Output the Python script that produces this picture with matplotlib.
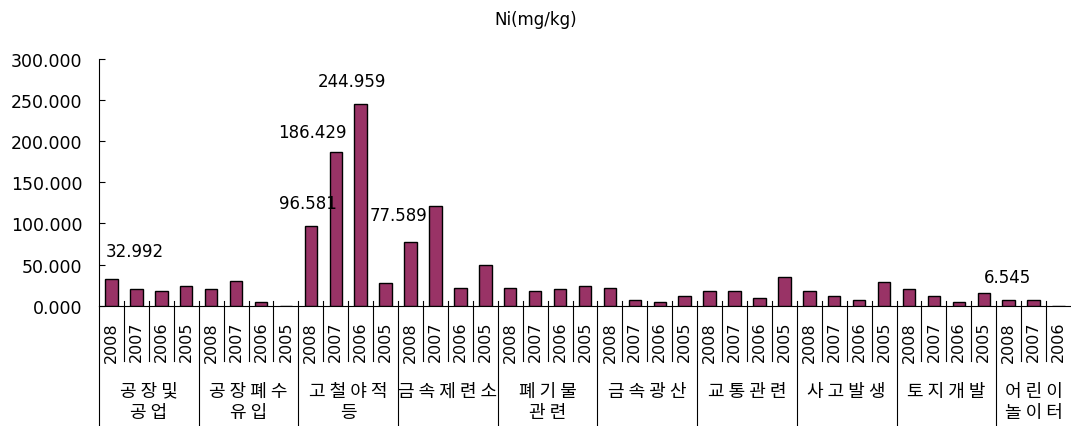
import matplotlib
matplotlib.use("Agg")
import matplotlib.pyplot as plt
import matplotlib.transforms as mtransforms

# groups (site type) and the years inside each group
categories = ['공장및\n공업', '공장폐수\n유입', '고철야적\n등', '금속제련소', '폐기물\n관련',
              '금속광산', '교통관련', '사고발생', '토지개발', '어린이\n놀이터']
years = ['2008', '2007', '2006', '2005']
last_years = ['2008', '2007', '2006']

# Ni concentration (mg/kg), one list per group
g_factory = [32.992, 20.0, 17.5, 24.0]
g_wastewater = [20.0, 30.4, 4.5, 0.0]
g_scrap = [96.581, 186.429, 244.959, 28.0]
g_smelter = [77.589, 121.6, 21.9, 49.5]
g_waste = [21.9, 17.9, 19.9, 24.3]
g_mine = [21.9, 6.9, 4.9, 11.4]
g_traffic = [17.9, 17.9, 9.0, 34.9]
g_accident = [17.9, 11.4, 6.9, 28.4]
g_landdev = [19.9, 11.4, 4.9, 15.4]
g_playground = [6.545, 6.9, 0.0]

groups = [g_factory, g_wastewater, g_scrap, g_smelter, g_waste,
          g_mine, g_traffic, g_accident, g_landdev, g_playground]

# bars that carry a value label: bar index -> offset of label (points)
labelled = {0: (17, 19.5), 8: (-2, 17), 9: (-17, 15), 10: (-6.5, 17),
            12: (-9, 19.5), 36: (-0.7, 17)}

values = []
year_labels = []
for i, g in enumerate(groups):
    values += g
    year_labels += (last_years if i == len(groups) - 1 else years)[:len(g)]
n = len(values)
x = list(range(n))

fig = plt.figure(figsize=(10.71, 4.27), dpi=100)
ax = fig.add_axes([99 / 1071, 120.3 / 427, 972 / 1071, 246.7 / 427])

ax.bar(x, values, width=0.5, color='#993366', edgecolor='black', linewidth=1.0, zorder=3)

ax.set_xlim(-0.5, n - 0.5)
ax.set_ylim(0, 300)
ax.set_yticks(range(0, 301, 50))
ax.set_yticklabels([f'{v:.3f}' for v in range(0, 301, 50)], fontsize=12.5, family='DejaVu Sans')
ax.tick_params(axis='y', direction='in', length=4, width=0.8, pad=12)

ax.set_xticks(x)
ax.set_xticklabels(year_labels, rotation=90, fontsize=11.5, family='DejaVu Sans')
ax.tick_params(axis='x', length=0, pad=11)

for s in ['top', 'right']:
    ax.spines[s].set_visible(False)
for s in ['left', 'bottom']:
    ax.spines[s].set_linewidth(0.8)

# separators between bars and between groups
trans = mtransforms.blended_transform_factory(ax.transData, ax.transAxes)
px = 1 / 246.7
starts = []
pos = 0
for g in groups:
    starts.append(pos)
    pos += len(g)
for b in range(n):
    xb = b - 0.5
    if b in starts:
        lo = -(427 - 306.7) * px
    else:
        lo = -(362 - 306.7) * px
    if b == 0:
        ax.plot([xb, xb], [lo, 0], transform=trans, color='black', lw=0.8, clip_on=False)
    else:
        ax.plot([xb, xb], [lo, 5 * px], transform=trans, color='black', lw=0.8, clip_on=False)

# group names (spaced out letters like the original)
for i, (name, st) in enumerate(zip(categories, starts)):
    xc = st + (len(groups[i]) - 1) / 2
    for k, line in enumerate(name.split('\n')):
        yc = -(391.7 - 306.7 + k * 21.5) * px
        ax.text(xc, yc, ' '.join(line), transform=trans, ha='center', va='center',
                fontsize=13, family=['Noto Sans CJK KR', 'DejaVu Sans'])

# value labels
for b, (dx, dy) in labelled.items():
    ax.annotate(f'{values[b]:.3f}', (b, values[b]), xytext=(dx, dy),
                textcoords='offset points', ha='center', va='center',
                fontsize=12, family='DejaVu Sans', zorder=4)

fig.text(536 / 1071, 1 - 20 / 427, 'Ni(mg/kg)', ha='center', va='center',
         fontsize=12, family='DejaVu Sans')

fig.savefig('out.png', dpi=100)
